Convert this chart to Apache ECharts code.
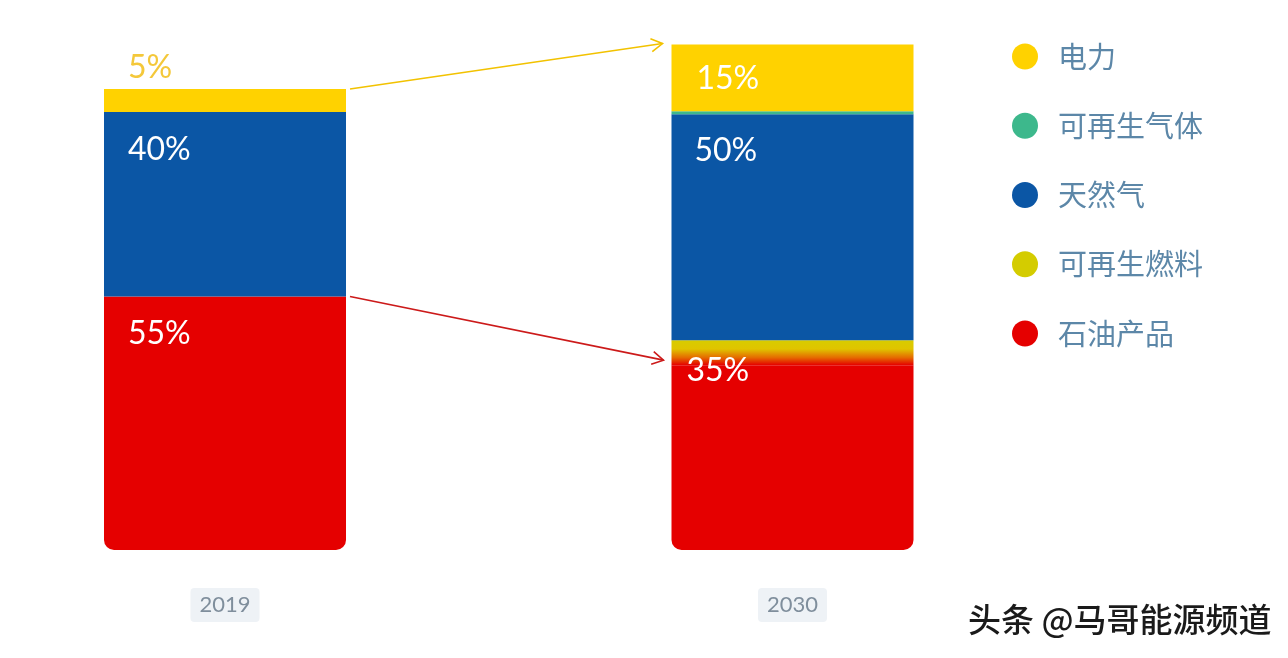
<!DOCTYPE html>
<html>
<head>
<meta charset="utf-8">
<script src="https://cdn.jsdelivr.net/npm/echarts@6/dist/echarts.min.js"></script>
<style>
html,body{margin:0;padding:0;background:#fff;}
#c{width:1288px;height:658px;}
</style>
</head>
<body>
<div id="c"></div>
<script>
// ---- data ----
const categories = ['2019', '2030'];
const seriesNames = ['电力', '可再生气体', '天然气', '可再生燃料', '石油产品'];
const power     = [5, 14.5];
const renewGas  = [0, 0.65];
const gas       = [40, 49];
const renewFuel = [0, 5.4];
const oil       = [55, 40.1];
const powerLabels     = ['5%', '15%'];
const gasLabels       = ['40%', '50%'];
const renewFuelLabels = ['', '35%'];
const oilLabels       = ['55%', ''];

// ---- styles ----
const C = {
  power: '#FFD200',
  renewGas: '#3DB88C',
  gas: '#0B56A5',
  renewFuel: '#D6CC00',
  oil: '#E50000'
};
const labelFont = 'Lato, "Open Sans", sans-serif';
const BAR_W = 242;

function mk(values, labels, positions, colors) {
  return values.map((v, i) => ({
    value: v,
    label: labels[i] ? {
      show: true,
      formatter: labels[i],
      position: positions[i],
      align: 'left',
      verticalAlign: 'middle',
      color: colors ? colors[i] : '#fff',
      fontSize: 32,
      fontFamily: labelFont
    } : { show: false }
  }));
}

const option = {
  backgroundColor: '#ffffff',
  animation: false,
  grid: { left: 225, width: 567.5, top: 19.85, bottom: 108 },
  legend: {
    orient: 'vertical',
    left: 1007,
    top: 37,
    itemWidth: 26,
    itemHeight: 26,
    itemGap: 40.25,
    icon: 'circle',
    selectedMode: false,
    textStyle: {
      color: '#5C87A8',
      fontSize: 29,
      fontFamily: '"Noto Sans CJK SC", sans-serif',
      padding: [0, 0, 0, 15]
    },
    data: [
      { name: '电力', itemStyle: { color: C.power } },
      { name: '可再生气体', itemStyle: { color: C.renewGas } },
      { name: '天然气', itemStyle: { color: C.gas } },
      { name: '可再生燃料', itemStyle: { color: '#D4CC00' } },
      { name: '石油产品', itemStyle: { color: C.oil } }
    ]
  },
  xAxis: {
    type: 'category',
    data: categories,
    boundaryGap: false,
    axisLine: { show: false },
    axisTick: { show: false },
    splitLine: { show: false },
    axisLabel: {
      margin: 38,
      color: '#7F8E9C',
      fontSize: 22,
      fontFamily: labelFont,
      backgroundColor: '#EEF2F6',
      padding: [6, 9, 6, 9],
      borderRadius: 4
    }
  },
  yAxis: {
    type: 'value',
    min: 0,
    max: 115,
    show: false,
    splitLine: { show: false }
  },
  series: [
    {
      name: '石油产品', type: 'bar', stack: 'total', barWidth: BAR_W, clip: false,
      itemStyle: { color: C.oil, borderRadius: [0, 0, 10, 10] },
      data: mk(oil, oilLabels, [[24, 37], [15, 30]])
    },
    {
      name: '可再生燃料', type: 'bar', stack: 'total', barWidth: BAR_W, clip: false,
      itemStyle: {
        color: new echarts.graphic.LinearGradient(0, 0, 0, 1, [
          { offset: 0, color: '#D8CC00' },
          { offset: 0.35, color: '#E0C400' },
          { offset: 0.7, color: '#E56A00' },
          { offset: 1, color: C.oil }
        ])
      },
      data: mk(renewFuel, renewFuelLabels, [[15, 30], [15, 30]])
    },
    {
      name: '天然气', type: 'bar', stack: 'total', barWidth: BAR_W, clip: false,
      itemStyle: { color: C.gas },
      data: mk(gas, gasLabels, [[24, 38], [23, 36]])
    },
    {
      name: '可再生气体', type: 'bar', stack: 'total', barWidth: BAR_W, clip: false,
      itemStyle: { color: C.renewGas },
      data: mk(renewGas, ['', ''], [[0, 0], [0, 0]])
    },
    {
      name: '电力', type: 'bar', stack: 'total', barWidth: BAR_W, clip: false,
      itemStyle: { color: C.power },
      data: mk(power, powerLabels, [[24, -21], [25, 34]], ['#F4C83A', '#ffffff'])
    }
  ],
  graphic: [
    {
      type: 'text',
      left: 968,
      top: 603,
      style: {
        text: '头条 @马哥能源频道',
        fill: '#1a1a1a',
        fontSize: 33,
        fontWeight: 500,
        fontFamily: '"Noto Sans CJK SC", sans-serif',
        textShadowColor: 'rgba(255,255,255,0.9)',
        textShadowOffsetX: 2,
        textShadowOffsetY: 2,
        textShadowBlur: 0
      }
    }
  ]
};

const chart = echarts.init(document.getElementById('c'));
chart.setOption(option);

// ---- arrows computed from data positions ----
function px(catIdx, val) {
  return chart.convertToPixel({ gridIndex: 0 }, [catIdx, val]);
}
function sum(arrs, i) { return arrs.reduce((s, a) => s + a[i], 0); }

function arrow(x1, y1, x2, y2, color) {
  const ang = Math.atan2(y2 - y1, x2 - x1);
  const L = 13, a = Math.PI / 6;
  const h1 = [x2 - L * Math.cos(ang - a), y2 - L * Math.sin(ang - a)];
  const h2 = [x2 - L * Math.cos(ang + a), y2 - L * Math.sin(ang + a)];
  return [
    { type: 'polyline', shape: { points: [[x1, y1], [x2, y2]] }, style: { stroke: color, lineWidth: 1.6, fill: null } },
    { type: 'polyline', shape: { points: [h1, [x2, y2], h2] }, style: { stroke: color, lineWidth: 1.6, fill: null } }
  ];
}

const total2019 = sum([oil, renewFuel, gas, renewGas, power], 0);
const total2030 = sum([oil, renewFuel, gas, renewGas, power], 1);
const p19top = px(0, total2019);
const p30top = px(1, total2030);
const p19oil = px(0, oil[0]);
const p30oil = px(1, oil[1]);

const startX = p19top[0] + BAR_W / 2 + 4;
const endX = p30top[0] - BAR_W / 2 - 9;

const extra = []
  .concat(arrow(startX, p19top[1], endX, p30top[1] - 1, '#F2C200'))
  .concat(arrow(startX, p19oil[1], endX + 1, p30oil[1] - 5, '#CC1A1A'));

chart.setOption({ graphic: option.graphic.concat(extra) });
</script>
</body>
</html>
